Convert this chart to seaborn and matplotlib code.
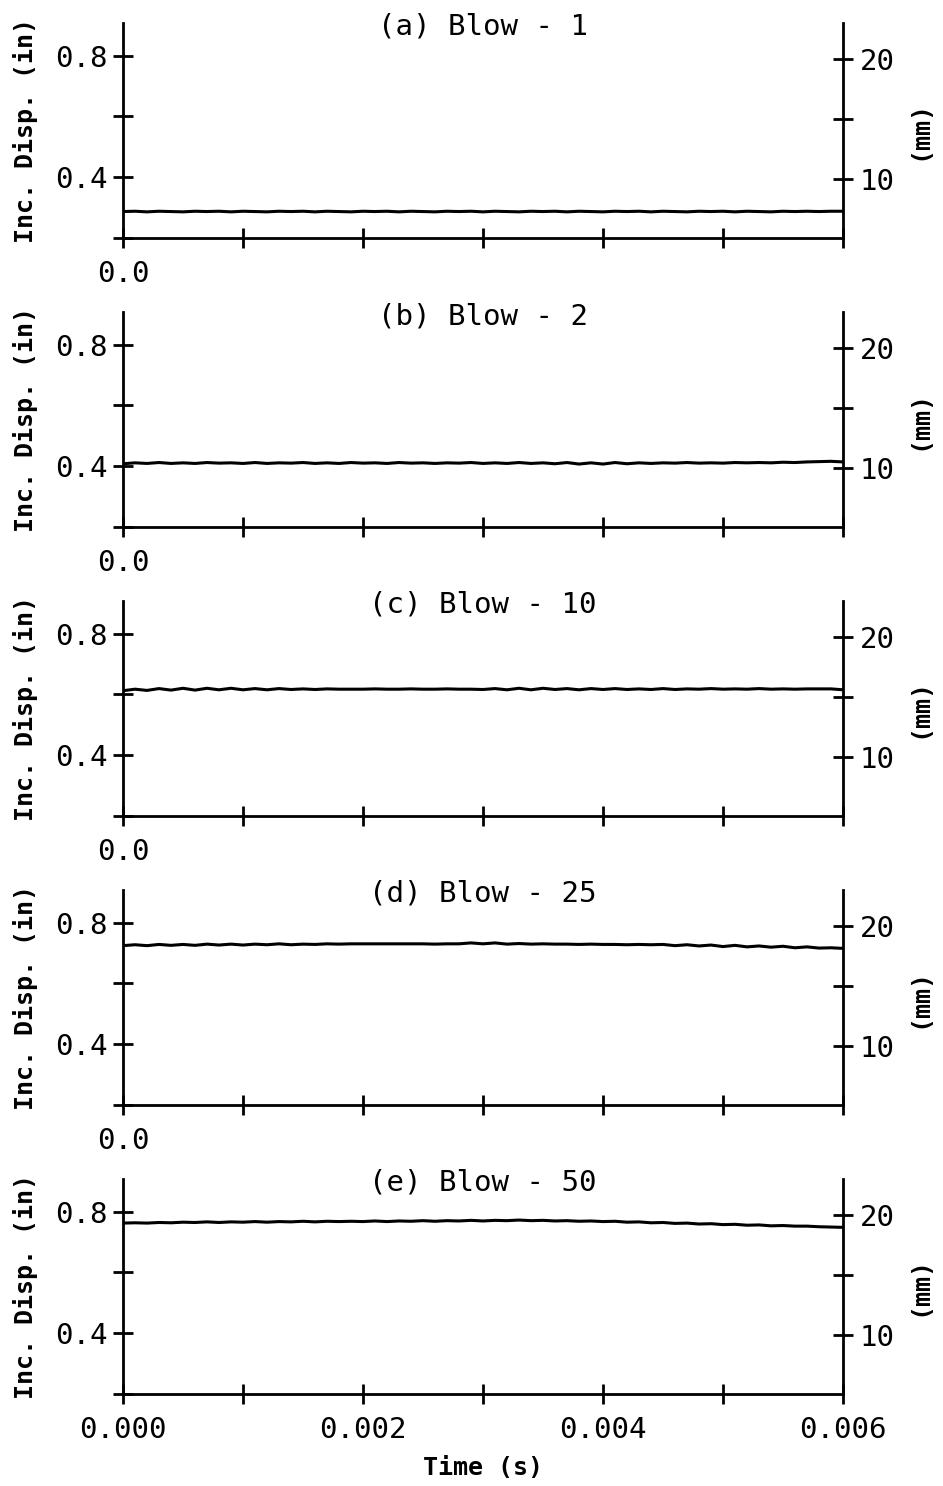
import numpy as np
import pandas as pd
import matplotlib
matplotlib.use("Agg")
import matplotlib.pyplot as plt
import seaborn as sns

# ---------------- data ----------------
time_s = np.linspace(0.0, 0.006, 61)

blow_titles = ["(a) Blow - 1", "(b) Blow - 2", "(c) Blow - 10",
               "(d) Blow - 25", "(e) Blow - 50"]

disp_blow1 = [0.287, 0.288, 0.286, 0.288, 0.287, 0.286, 0.288, 0.287, 0.288, 0.286,
              0.288, 0.287, 0.286, 0.288, 0.287, 0.288, 0.286, 0.288, 0.287, 0.286,
              0.288, 0.287, 0.288, 0.286, 0.288, 0.287, 0.286, 0.288, 0.287, 0.288,
              0.286, 0.288, 0.287, 0.286, 0.288, 0.287, 0.288, 0.286, 0.288, 0.287,
              0.286, 0.288, 0.287, 0.288, 0.286, 0.288, 0.287, 0.286, 0.288, 0.287,
              0.288, 0.286, 0.288, 0.287, 0.286, 0.288, 0.287, 0.288, 0.287, 0.288, 0.288]

disp_blow2 = [0.408, 0.411, 0.409, 0.412, 0.409, 0.411, 0.409, 0.412, 0.410, 0.411,
              0.409, 0.412, 0.409, 0.411, 0.410, 0.412, 0.409, 0.411, 0.409, 0.412,
              0.410, 0.411, 0.409, 0.412, 0.410, 0.411, 0.409, 0.411, 0.410, 0.412,
              0.409, 0.411, 0.409, 0.412, 0.409, 0.411, 0.408, 0.412, 0.407, 0.411,
              0.407, 0.412, 0.408, 0.411, 0.409, 0.411, 0.410, 0.412, 0.410, 0.411,
              0.410, 0.412, 0.411, 0.412, 0.411, 0.413, 0.412, 0.414, 0.415, 0.416, 0.414]

disp_blow10 = [0.612, 0.617, 0.613, 0.619, 0.614, 0.620, 0.614, 0.620, 0.615, 0.620,
               0.615, 0.619, 0.615, 0.619, 0.616, 0.618, 0.616, 0.618, 0.617, 0.617,
               0.617, 0.618, 0.617, 0.617, 0.618, 0.617, 0.617, 0.618, 0.617, 0.617,
               0.616, 0.619, 0.615, 0.620, 0.615, 0.620, 0.616, 0.619, 0.615, 0.619,
               0.616, 0.619, 0.616, 0.618, 0.616, 0.619, 0.616, 0.618, 0.617, 0.619,
               0.617, 0.618, 0.617, 0.619, 0.617, 0.618, 0.617, 0.618, 0.618, 0.618, 0.615]

disp_blow25 = [0.724, 0.727, 0.724, 0.728, 0.725, 0.728, 0.725, 0.729, 0.726, 0.729,
               0.726, 0.729, 0.727, 0.730, 0.727, 0.729, 0.728, 0.730, 0.729, 0.730,
               0.730, 0.730, 0.730, 0.730, 0.730, 0.730, 0.729, 0.730, 0.730, 0.733,
               0.730, 0.733, 0.729, 0.731, 0.729, 0.730, 0.729, 0.729, 0.728, 0.729,
               0.728, 0.728, 0.727, 0.728, 0.727, 0.728, 0.724, 0.727, 0.723, 0.726,
               0.721, 0.725, 0.720, 0.723, 0.719, 0.722, 0.717, 0.720, 0.716, 0.717, 0.715]

disp_blow50 = [0.762, 0.763, 0.762, 0.764, 0.763, 0.765, 0.764, 0.766, 0.764, 0.766,
               0.765, 0.767, 0.765, 0.767, 0.766, 0.768, 0.766, 0.768, 0.767, 0.768,
               0.767, 0.769, 0.767, 0.769, 0.768, 0.770, 0.768, 0.770, 0.769, 0.771,
               0.769, 0.771, 0.770, 0.772, 0.770, 0.771, 0.769, 0.770, 0.768, 0.769,
               0.767, 0.768, 0.765, 0.766, 0.763, 0.764, 0.761, 0.762, 0.759, 0.760,
               0.757, 0.758, 0.755, 0.756, 0.753, 0.754, 0.752, 0.752, 0.750, 0.749, 0.748]

series = [disp_blow1, disp_blow2, disp_blow10, disp_blow25, disp_blow50]

x_ticks = [0.000, 0.001, 0.002, 0.003, 0.004, 0.005, 0.006]
x_labels_bottom = ["0.000", "", "0.002", "", "0.004", "", "0.006"]
x_labels_upper = ["0.0", "", "", "", "", "", ""]
y_ticks_in = [0.2, 0.4, 0.6, 0.8]
y_labels_in = ["", "0.4", "", "0.8"]
y_ticks_mm = [10, 15, 20]
y_labels_mm = ["10", "", "20"]

# ---------------- styling ----------------
sns.set_theme(style="ticks")
plt.rcParams["font.family"] = ["DejaVu Sans Mono", "DejaVu Sans"]
plt.rcParams["text.color"] = "black"
plt.rcParams["axes.labelcolor"] = "black"

W, H = 943, 1486
fig = plt.figure(figsize=(W / 100, H / 100), dpi=100)
fig.patch.set_facecolor("white")

left_px, right_px, h_px = 123, 843, 215
bottoms_px = [238, 527, 816, 1105, 1394]
ymin, ymax = 0.2, 0.907
LW = 2.0
TLEN = 13.7

for i, (vals, title, b) in enumerate(zip(series, blow_titles, bottoms_px)):
    ax = fig.add_axes([left_px / W, 1 - b / H, (right_px - left_px) / W, h_px / H])
    ax.set_facecolor("white")
    df = pd.DataFrame({"t": time_s, "disp": vals})
    sns.lineplot(data=df, x="t", y="disp", ax=ax, color="black", lw=2.2)

    ax.set_xlim(0, 0.006)
    ax.set_ylim(ymin, ymax)
    for s in ["left", "bottom"]:
        ax.spines[s].set_linewidth(LW)
        ax.spines[s].set_color("black")
    ax.spines["top"].set_visible(False)
    ax.spines["right"].set_visible(False)

    ax.set_xticks(x_ticks)
    ax.set_xticklabels(x_labels_bottom if i == 4 else x_labels_upper)
    ax.set_yticks(y_ticks_in)
    ax.set_yticklabels(y_labels_in)
    ax.tick_params(axis="both", direction="inout", length=TLEN, width=LW,
                   color="black", labelsize=21, labelcolor="black")
    ax.tick_params(axis="y", pad=4)
    ax.tick_params(axis="x", pad=9)

    ax.set_ylabel("Inc. Disp. (in)", fontsize=18, color="black", fontweight="bold")
    ax.yaxis.set_label_coords(-0.118, 0.5)
    if i == 4:
        ax.set_xlabel("Time (s)", fontsize=18, color="black", fontweight="bold")
        ax.xaxis.set_label_coords(0.5, -0.29)
    else:
        ax.set_xlabel("")

    ax.text(0.5, 1 - 4 / h_px, title, transform=ax.transAxes, ha="center",
            va="center", fontsize=21, color="black")

    ax2 = ax.twinx()
    ax2.set_ylim(ymin * 25.4, ymax * 25.4)
    for s in ["left", "bottom", "top"]:
        ax2.spines[s].set_visible(False)
    ax2.spines["right"].set_linewidth(LW)
    ax2.spines["right"].set_color("black")
    ax2.set_yticks(y_ticks_mm)
    ax2.set_yticklabels(y_labels_mm)
    ax2.tick_params(axis="y", direction="inout", length=TLEN, width=LW,
                    color="black", labelsize=21, labelcolor="black", pad=5)
    ax2.set_ylabel("(mm)", fontsize=18, color="black", fontweight="bold")
    ax2.yaxis.set_label_coords(1.090, 0.5)

fig.savefig("out.png", dpi=100, facecolor="white")
